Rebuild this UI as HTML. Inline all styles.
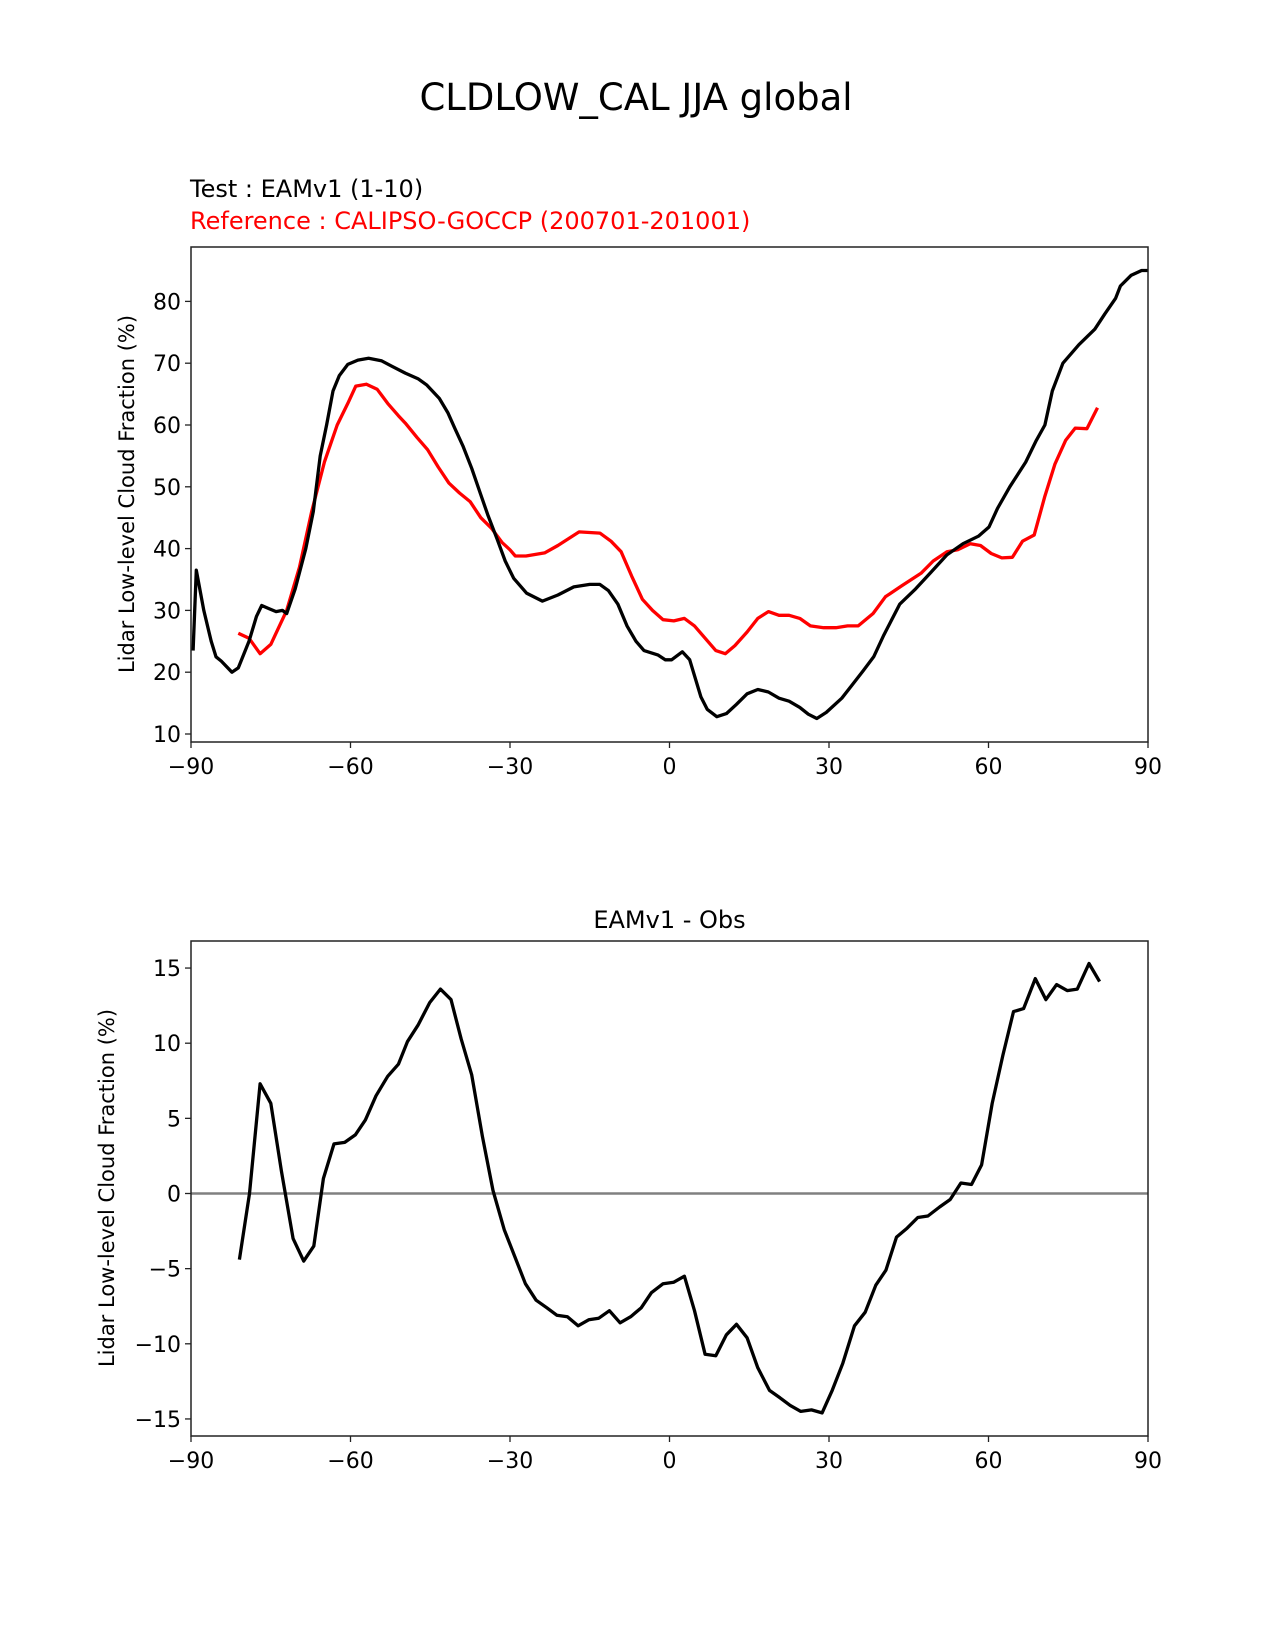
<!DOCTYPE html>
<html><head><meta charset="utf-8"><style>
html,body{margin:0;padding:0;background:#fff;}
svg{display:block;font-family:"DejaVu Sans","Liberation Sans",sans-serif;}
</style></head><body>
<svg id="fig" width="1275" height="1650" viewBox="0 0 1275 1650">
<rect width="1275" height="1650" fill="#fff"/>
<text x="636" y="110" font-size="37" text-anchor="middle">CLDLOW_CAL JJA global</text>
<text x="190" y="197" font-size="24">Test : EAMv1 (1-10)</text>
<text x="190" y="229" font-size="24" fill="#ff0000">Reference : CALIPSO-GOCCP (200701-201001)</text>
<text x="669.5" y="928" font-size="24" text-anchor="middle">EAMv1 - Obs</text>
<text transform="translate(134,494) rotate(-90)" font-size="21" text-anchor="middle">Lidar Low-level Cloud Fraction (%)</text>
<text transform="translate(114,1188) rotate(-90)" font-size="21" text-anchor="middle">Lidar Low-level Cloud Fraction (%)</text>
<g id="top"></g>
<g id="bot"></g>
</svg>
<script>
const xTicks = [-90, -60, -30, 0, 30, 60, 90];
const topYTicks = [10, 20, 30, 40, 50, 60, 70, 80];
const botYTicks = [-15, -10, -5, 0, 5, 10, 15];
const testLat = [-89.6,-89,-87.6,-86.2,-85.3,-84.3,-82.3,-81.1,-79.1,-77.7,-76.7,-75.4,-74,-72.8,-72,-70.4,-68.4,-67,-65.7,-64.5,-63.3,-62.1,-60.5,-58.6,-56.6,-54.2,-52.2,-49.7,-47.3,-45.7,-43.3,-41.7,-40.4,-38.8,-37.2,-35.6,-34.2,-32.4,-30.9,-29.3,-26.9,-23.9,-21,-18,-15,-13.1,-11.5,-9.7,-8,-6.3,-4.8,-2.2,-0.8,0.4,2.4,3.8,5.9,7.1,8.9,10.7,12.6,14.6,16.6,18.6,20.6,22.5,24.5,26.1,27.7,29.5,32.4,34.4,36.4,38.4,40.3,43.3,46.3,49.2,52.2,55.2,58.1,60.1,61.7,64,67,69,70.6,72,74,77,80,81.9,83.9,84.8,86.8,88.8,90];
const testVal = [23.5,36.5,30,25,22.5,21.8,20,20.7,25,29,30.8,30.3,29.8,30,29.5,33.5,40,46,55,60,65.5,68,69.8,70.5,70.8,70.4,69.5,68.4,67.5,66.5,64.3,62,59.5,56.5,53,49,45.5,41.5,38,35.2,32.8,31.5,32.5,33.8,34.2,34.2,33.2,31,27.5,25,23.5,22.8,22,22,23.3,22,16,14,12.8,13.3,14.8,16.5,17.2,16.8,15.8,15.3,14.3,13.2,12.5,13.5,15.8,18,20.2,22.5,26,31,33.5,36.2,39,40.8,42,43.5,46.5,50,54,57.5,60,65.5,70,73,75.5,78,80.5,82.5,84.2,85,85];
const refLat = [-81.1,-79.1,-77,-75,-72,-69.6,-67.3,-64.9,-62.5,-60.5,-59,-57,-55,-53,-51,-49.7,-47.5,-45.5,-43.5,-41.5,-39.5,-37.5,-35.5,-33.5,-31.5,-30,-29,-27,-23.5,-21,-17,-13.1,-11,-9.1,-7.1,-5.1,-3.2,-1.2,0.8,2.8,4.7,6.7,8.7,10.5,12.3,14.6,16.6,18.6,20.6,22.5,24.5,26.5,29,31.3,33.5,35.5,38.3,40.6,43.7,47.3,49.6,52.2,54.2,56.6,58.5,60.5,62.5,64.5,66.4,68.6,70.6,72.5,74.5,76.3,78.5,80.5];
const refVal = [26.3,25.5,23,24.5,30,37,46,54,60,63.5,66.3,66.6,65.8,63.5,61.5,60.3,58,56,53.2,50.6,49,47.6,45,43.3,41,39.8,38.8,38.8,39.3,40.5,42.7,42.5,41.2,39.5,35.5,31.8,30,28.5,28.3,28.7,27.5,25.5,23.5,23,24.3,26.5,28.7,29.8,29.2,29.2,28.7,27.5,27.2,27.2,27.5,27.5,29.5,32.2,34,36,38,39.5,39.8,40.8,40.5,39.2,38.5,38.6,41.2,42.2,48.5,53.7,57.5,59.5,59.4,62.8];
const diffLat = [-80.9,-79,-77,-75,-73,-70.8,-68.8,-66.9,-65.1,-63.1,-61.1,-59.1,-57.2,-55.2,-53,-51,-49.3,-47.3,-45.1,-43.1,-41.1,-39.2,-37.2,-35.2,-33.2,-31.1,-29.1,-27.1,-25.1,-23.1,-21.2,-19.2,-17.2,-15.2,-13.3,-11.3,-9.3,-7.3,-5.3,-3.4,-1.2,0.8,2.8,4.7,6.7,8.7,10.7,12.6,14.6,16.6,18.8,20.8,22.7,24.7,26.7,28.7,30.6,32.6,34.8,36.8,38.8,40.7,42.7,44.7,46.7,48.6,50.8,52.8,54.8,56.8,58.7,60.7,62.7,64.7,66.6,68.8,70.8,72.8,74.8,76.7,78.9,80.9];
const diffVal = [-4.4,0,7.3,6,1.5,-3,-4.5,-3.5,1,3.3,3.4,3.9,4.9,6.5,7.8,8.6,10.1,11.2,12.7,13.6,12.9,10.3,7.9,3.8,0.2,-2.4,-4.2,-6,-7.1,-7.6,-8.1,-8.2,-8.8,-8.4,-8.3,-7.8,-8.6,-8.2,-7.6,-6.6,-6,-5.9,-5.5,-7.8,-10.7,-10.8,-9.4,-8.7,-9.6,-11.6,-13.1,-13.6,-14.1,-14.5,-14.4,-14.6,-13.1,-11.3,-8.8,-7.9,-6.1,-5.1,-2.9,-2.3,-1.6,-1.5,-0.9,-0.4,0.7,0.6,1.9,6,9.2,12.1,12.3,14.3,12.9,13.9,13.5,13.6,15.3,14.1];

const NS = 'http://www.w3.org/2000/svg';
const L = 191, R = 1148;
function xs(lat){ return L + (lat + 90) / 180 * (R - L); }
function yTop(v){ return 734 - (v - 10) * 6.18; }
function yBot(v){ return 1193.5 - v * 15.03; }
function mk(parent, tag, attrs){
  const e = document.createElementNS(NS, tag);
  for (const k in attrs) e.setAttribute(k, attrs[k]);
  parent.appendChild(e);
  return e;
}
function axes(g, top, bottom, ys, yTicks, prefix){
  for (const t of xTicks){
    const x = xs(t);
    const tk = mk(g, 'line', {x1:x, x2:x, y1:bottom, y2:bottom+6, stroke:'#222', 'stroke-width':1.3});
    
    
    const tx = mk(g, 'text', {x:x, y:bottom+32, 'font-size':22, 'text-anchor':'middle'});
    tx.textContent = (t < 0 ? '\u2212' + (-t) : '' + t);
    
    
  }
  for (const t of yTicks){
    const y = ys(t);
    const tk = mk(g, 'line', {x1:L-6, x2:L, y1:y, y2:y, stroke:'#222', 'stroke-width':1.3});
    
    
    const tx = mk(g, 'text', {x:L-10, y:y+8, 'font-size':22, 'text-anchor':'end'});
    tx.textContent = (t < 0 ? '\u2212' + (-t) : '' + t);
    
    
  }
}
function line(g, lats, vals, ys, color, w){
  const d = lats.map((la, i) => (i ? 'L' : 'M') + xs(la).toFixed(1) + ',' + ys(vals[i]).toFixed(1)).join('');
  return mk(g, 'path', {d:d, fill:'none', stroke:color, 'stroke-width':w, 'stroke-linejoin':'round'});
}
const gt = document.getElementById('top');
const gb = document.getElementById('bot');
axes(gt, 247, 742, yTop, topYTicks, 'top');
axes(gb, 941, 1436, yBot, botYTicks, 'bottom');
const rl = line(gt, refLat, refVal, yTop, '#ff0000', 3.3);


const tl = line(gt, testLat, testVal, yTop, '#000', 3.3);


const z = mk(gb, 'line', {x1:L, x2:R, y1:yBot(0), y2:yBot(0), stroke:'#808080', 'stroke-width':2.5});


const dl = line(gb, diffLat, diffVal, yBot, '#000', 3.3);


const f1 = mk(gt, 'rect', {x:L, y:247, width:R-L, height:495, fill:'none', stroke:'#222', 'stroke-width':1.5});


const f2 = mk(gb, 'rect', {x:L, y:941, width:R-L, height:495, fill:'none', stroke:'#222', 'stroke-width':1.5});


</script>
</body></html>
